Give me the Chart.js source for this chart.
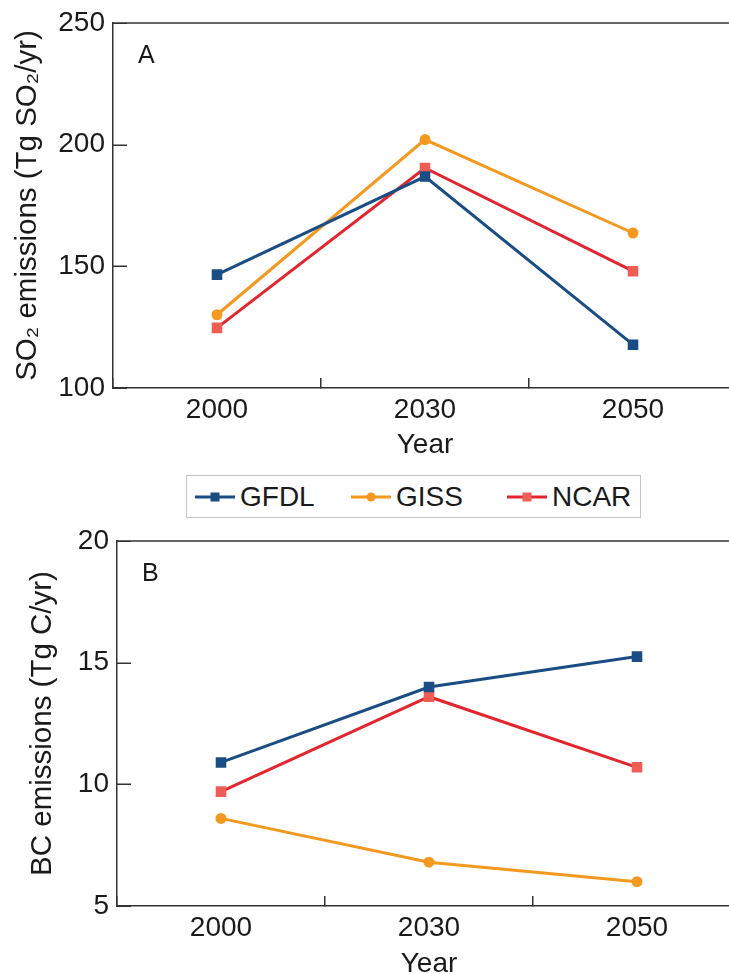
<!DOCTYPE html>
<html>
<head>
<meta charset="utf-8">
<script src="https://cdn.jsdelivr.net/npm/chart.js@4"></script>
<style>
  html, body { margin: 0; padding: 0; background: #fff; }
  body { width: 729px; height: 974px; overflow: hidden; position: relative; font-family: "Liberation Sans", Arial, sans-serif; }
  canvas { position: absolute; left: 0; }
  #chartA { top: 0; }
  #chartB { top: 520px; }
  #legend {
    position: absolute; left: 186px; top: 475px; width: 445px; height: 41px;
    border: 1.5px solid #c4c4c4; display: flex; align-items: center;
    padding-left: 8px; color: #1a1a1a; font-size: 28px;
  }
  .item { display: flex; align-items: center; width: 156px; flex: 0 0 auto; }
  .item:last-child { width: auto; }
  .item svg { margin-right: 5px; }
</style>
</head>
<body>
<canvas id="chartA" width="745" height="470"></canvas>
<div id="legend"></div>
<canvas id="chartB" width="749" height="490"></canvas>
<script>
// data
const years = ['2000', '2030', '2050'];
const models = ['GFDL', 'GISS', 'NCAR'];

const so2Gfdl = [146.6, 186.9, 117.8];
const so2Giss = [130.1, 202.1, 163.7];
const so2Ncar = [124.7, 190.4, 148.0];
const so2Ticks = [100, 150, 200, 250];

const bcGfdl = [10.9, 14.0, 15.25];
const bcGiss = [8.6, 6.8, 6.0];
const bcNcar = [9.7, 13.6, 10.7];
const bcTicks = [5, 10, 15, 20];

const lineColors = ['#1b4d85', '#f4991f', '#e2262f'];
const markColors = ['#1b4d85', '#f4991f', '#ee5e55'];
const markStyles = ['rect', 'circle', 'rect'];
const markRadius = [7.5, 5.5, 7.5];

const font = '"Liberation Sans", Arial, sans-serif';
const ink = '#1a1a1a';
const axisColor = '#333';

function makeDatasets(series) {
  return series.map((vals, i) => ({
    label: models[i],
    data: vals,
    borderColor: lineColors[i],
    borderWidth: 3,
    pointStyle: markStyles[i],
    pointRadius: markRadius[i],
    pointBackgroundColor: markColors[i],
    pointBorderWidth: 0,
    tension: 0
  }));
}

// top frame line, inward y ticks, panel letter
const framePlugin = {
  id: 'frame',
  afterDraw(chart, args, opts) {
    const { ctx, chartArea } = chart;
    const y = chart.scales.y;
    ctx.save();
    ctx.strokeStyle = axisColor;
    ctx.lineWidth = 1.5;
    ctx.beginPath();
    ctx.moveTo(chartArea.left, chartArea.top);
    ctx.lineTo(chartArea.right, chartArea.top);
    y.ticks.forEach(t => {
      const py = Math.round(y.getPixelForValue(t.value)) + 0.25;
      ctx.moveTo(chartArea.left, py);
      ctx.lineTo(chartArea.left + 14, py);
    });
    ctx.stroke();
    ctx.fillStyle = ink;
    ctx.font = '25px ' + font;
    ctx.textBaseline = 'alphabetic';
    ctx.fillText(opts.letter, chartArea.left + 25, chartArea.top + 40);
    ctx.restore();
  }
};

function makePanel(id, series, ticks, yTitle, o) {
  return new Chart(document.getElementById(id), {
    type: 'line',
    data: { labels: years, datasets: makeDatasets(series) },
    plugins: [framePlugin],
    options: {
      responsive: false,
      animation: false,
      devicePixelRatio: 1,
      layout: { padding: { left: 0, top: o.top, right: 8, bottom: 0 } },
      plugins: {
        legend: { display: false },
        tooltip: { enabled: false },
        frame: { letter: o.letter }
      },
      scales: {
        x: {
          offset: true,
          grid: { offset: true, drawOnChartArea: false, drawTicks: true, tickLength: -10, color: axisColor, lineWidth: 1.5 },
          border: { color: axisColor, width: 1.5 },
          ticks: { color: ink, font: { family: font, size: 28 }, padding: 15, maxRotation: 0 },
          title: { display: true, text: 'Year', color: ink, font: { family: font, size: 28 }, padding: { top: 0, bottom: o.titlePad } },
          afterFit(scale) {
            scale.height = o.xHeight;
            scale.paddingLeft = 0;
            scale.paddingRight = 0;
          }
        },
        y: {
          min: ticks[0],
          max: ticks[ticks.length - 1],
          grid: { drawOnChartArea: false, drawTicks: false, color: axisColor },
          border: { color: axisColor, width: 1.5 },
          ticks: { stepSize: ticks[1] - ticks[0], color: ink, font: { family: font, size: 28 }, padding: 8 },
          title: { display: true, text: yTitle, color: ink, font: { family: font, size: 29.5 }, padding: { top: o.yTitlePad, bottom: 0 } },
          afterFit(scale) {
            scale.width = o.left;
            scale.paddingTop = 0;
            scale.paddingBottom = 0;
          }
        }
      }
    }
  });
}

const chartA = makePanel('chartA', [so2Gfdl, so2Giss, so2Ncar], so2Ticks,
  'SO\u2082 emissions (Tg SO\u2082/yr)',
  { letter: 'A', top: 23, left: 113, xHeight: 82, titlePad: 8, yTitlePad: 10 });

const chartB = makePanel('chartB', [bcGfdl, bcGiss, bcNcar], bcTicks,
  'BC emissions (Tg C/yr)',
  { letter: 'B', top: 21, left: 117, xHeight: 104, titlePad: 29, yTitlePad: 25 });

// html legend built from the datasets
const legend = document.getElementById('legend');
chartA.data.datasets.forEach((ds, i) => {
  const item = document.createElement('span');
  item.className = 'item';
  const mark = markStyles[i] === 'rect'
    ? `<rect x="15.5" y="5.5" width="9" height="9" fill="${markColors[i]}"/>`
    : `<circle cx="20" cy="10" r="4.5" fill="${markColors[i]}"/>`;
  item.innerHTML = `<svg width="40" height="20"><line x1="0" y1="10" x2="40" y2="10" stroke="${lineColors[i]}" stroke-width="3"/>${mark}</svg><span>${ds.label}</span>`;
  legend.appendChild(item);
});
</script>
</body>
</html>
